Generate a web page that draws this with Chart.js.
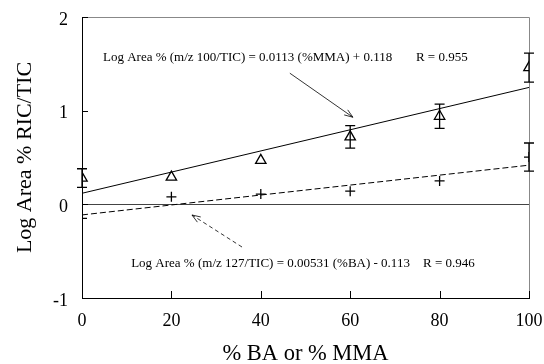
<!DOCTYPE html>
<html>
<head>
<meta charset="utf-8">
<script src="https://cdn.jsdelivr.net/npm/chart.js@4"></script>
<style>
  html, body { margin: 0; padding: 0; background: #fff; }
  #wrap { width: 544px; height: 364px; }
</style>
</head>
<body>
<div id="wrap"><canvas id="logChart"></canvas></div>
<script>
// % BA or % MMA in the blend
const percent = [0, 20, 40, 60, 80, 100];
// m/z 100 (MMA) points, triangles
const mmaLog = [0.28, 0.29, 0.47, 0.72, 0.94, 1.46];
const mmaErr = [0.10, 0, 0, 0.12, 0.13, 0.155];
// m/z 127 (BA) points, crosses
const baLog = [-0.15, 0.08, 0.11, 0.14, 0.25, 0.505];
const baErr = [0, 0, 0, 0, 0, 0.15];
// fitted lines: slope, intercept
const mmaFit = [0.0113, 0.118];
const baFit = [0.00531, -0.113];
const xTicks = [0, 20, 40, 60, 80, 100];
const yTicks = [-1, 0, 1, 2];

const serif = "'Liberation Serif', 'Times New Roman', serif";

const pts = (ys) => percent.map((x, i) => ({ x: x, y: ys[i] }));
const fitLine = (f) => [{ x: 0, y: f[1] }, { x: 100, y: f[0] * 100 + f[1] }];

// error bars, frame, inner ticks, zero line and the two equation labels
const extras = {
  id: 'extras',
  beforeDatasetsDraw(chart) {
    const { ctx, chartArea: a, scales: { x, y } } = chart;
    ctx.save();
    // zero line
    ctx.strokeStyle = '#444';
    ctx.lineWidth = 1;
    ctx.beginPath();
    ctx.moveTo(a.left, Math.round(y.getPixelForValue(0)) + 0.5);
    ctx.lineTo(a.right, Math.round(y.getPixelForValue(0)) + 0.5);
    ctx.stroke();
    // top and right edges of the box
    ctx.strokeStyle = '#888';
    ctx.beginPath();
    ctx.moveTo(a.left, a.top + 0.5);
    ctx.lineTo(a.right + 0.5, a.top + 0.5);
    ctx.lineTo(a.right + 0.5, a.bottom);
    ctx.stroke();
    // inward ticks
    ctx.strokeStyle = '#000';
    ctx.beginPath();
    xTicks.forEach(v => {
      const px = Math.round(x.getPixelForValue(v)) + 0.5;
      ctx.moveTo(px, a.bottom);
      ctx.lineTo(px, a.bottom - 7);
    });
    yTicks.forEach(v => {
      const py = Math.round(y.getPixelForValue(v)) + 0.5;
      ctx.moveTo(a.left, py);
      ctx.lineTo(a.left + 6, py);
    });
    ctx.stroke();
    ctx.restore();
  },
  afterDatasetsDraw(chart) {
    const { ctx, scales: { x, y } } = chart;
    ctx.save();
    ctx.strokeStyle = '#000';
    ctx.lineWidth = 1.3;
    const bars = (vals, errs) => {
      vals.forEach((v, i) => {
        if (!errs[i]) return;
        const px = x.getPixelForValue(percent[i]);
        const t = y.getPixelForValue(v + errs[i]);
        const b = y.getPixelForValue(v - errs[i]);
        ctx.beginPath();
        ctx.moveTo(px, t); ctx.lineTo(px, b);
        ctx.moveTo(px - 5, t); ctx.lineTo(px + 5, t);
        ctx.moveTo(px - 5, b); ctx.lineTo(px + 5, b);
        ctx.stroke();
      });
    };
    bars(mmaLog, mmaErr);
    bars(baLog, baErr);

    // arrows from the labels to the lines
    const arrow = (x0, y0, x1, y1, dash) => {
      const ax = x.getPixelForValue(x0), ay = y.getPixelForValue(y0);
      const bx = x.getPixelForValue(x1), by = y.getPixelForValue(y1);
      ctx.lineWidth = 0.8;
      ctx.setLineDash(dash);
      ctx.beginPath();
      ctx.moveTo(ax, ay); ctx.lineTo(bx, by);
      ctx.stroke();
      ctx.setLineDash([]);
      const ang = Math.atan2(by - ay, bx - ax);
      ctx.beginPath();
      ctx.moveTo(bx - 9 * Math.cos(ang - 0.35), by - 9 * Math.sin(ang - 0.35));
      ctx.lineTo(bx, by);
      ctx.lineTo(bx - 9 * Math.cos(ang + 0.35), by - 9 * Math.sin(ang + 0.35));
      ctx.stroke();
    };
    arrow(46.5, 1.40, 60.6, 0.93, []);
    arrow(35.8, -0.456, 24.6, -0.114, [4, 3]);

    ctx.fillStyle = '#000';
    ctx.font = '13px ' + serif;
    ctx.textBaseline = 'middle';
    ctx.fillText('Log Area % (m/z 100/TIC) = 0.0113 (%MMA) + 0.118', x.getPixelForValue(4.7), y.getPixelForValue(1.57));
    ctx.fillText('R = 0.955', x.getPixelForValue(74.7), y.getPixelForValue(1.57));
    ctx.fillText('Log Area % (m/z 127/TIC) = 0.00531 (%BA) - 0.113', x.getPixelForValue(11), y.getPixelForValue(-0.635));
    ctx.fillText('R = 0.946', x.getPixelForValue(76.3), y.getPixelForValue(-0.635));
    ctx.restore();
  }
};

new Chart(document.getElementById('logChart'), {
  type: 'scatter',
  data: {
    datasets: [
      {
        label: 'MMA',
        data: pts(mmaLog),
        pointStyle: 'triangle',
        pointRadius: 6,
        pointBorderWidth: 1.3,
        borderColor: '#000',
        backgroundColor: 'rgba(0,0,0,0)'
      },
      {
        label: 'BA',
        data: pts(baLog),
        pointStyle: 'cross',
        pointRadius: 5,
        pointBorderWidth: 1.3,
        borderColor: '#000'
      },
      {
        label: 'MMA fit',
        data: fitLine(mmaFit),
        showLine: true,
        pointRadius: 0,
        borderColor: '#000',
        borderWidth: 1
      },
      {
        label: 'BA fit',
        data: fitLine(baFit),
        showLine: true,
        pointRadius: 0,
        borderColor: '#000',
        borderWidth: 1,
        borderDash: [6, 3]
      }
    ]
  },
  options: {
    responsive: true,
    maintainAspectRatio: false,
    animation: false,
    layout: { padding: { left: 0, top: 17, right: 15, bottom: 0 } },
    plugins: { legend: { display: false }, tooltip: { enabled: false } },
    scales: {
      x: {
        min: 0, max: 100,
        afterFit: s => { s.height = 66; s.paddingLeft = 0; s.paddingRight = 0; },
        afterBuildTicks: s => { s.ticks = xTicks.map(v => ({ value: v })); },
        grid: { display: false, drawTicks: false },
        border: { display: true, color: '#000', width: 1 },
        ticks: { color: '#000', padding: 12, maxRotation: 0, font: { family: serif, size: 18 } },
        title: {
          display: true, text: '% BA or % MMA', color: '#000',
          font: { family: serif, size: 22.5, lineHeight: 1 },
          padding: { top: 0, bottom: -1.5 }
        }
      },
      y: {
        min: -1, max: 2,
        afterFit: s => { s.width = 82; s.paddingTop = 0; s.paddingBottom = 0; },
        afterBuildTicks: s => { s.ticks = yTicks.map(v => ({ value: v })); },
        grid: { display: false, drawTicks: false },
        border: { display: true, color: '#000', width: 1 },
        ticks: { color: '#000', padding: 14, labelOffset: 3, font: { family: serif, size: 18 } },
        title: {
          display: true, text: 'Log Area % RIC/TIC', color: '#000',
          font: { family: serif, size: 22, lineHeight: 1.2 },
          padding: { top: 12, bottom: 0 }
        }
      }
    }
  },
  plugins: [extras]
});
</script>
</body>
</html>
